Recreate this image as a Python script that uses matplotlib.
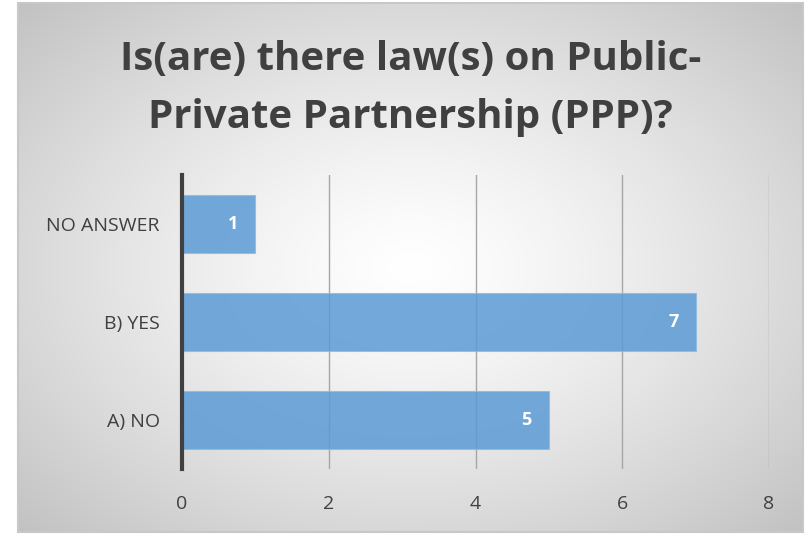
import numpy as np
import matplotlib
matplotlib.use("Agg")
import matplotlib.pyplot as plt
from matplotlib.patches import Rectangle

categories = ["A) NO", "B) YES", "NO ANSWER"]
values = [5, 7, 1]
xticks = [0, 2, 4, 6, 8]
title_lines = ["Is(are) there law(s) on Public-", "Private Partnership (PPP)?"]

W, H = 806, 534
fig = plt.figure(figsize=(W / 100, H / 100), dpi=100)
fig.patch.set_facecolor("white")

# background panel with radial gradient
x0, y0, x1, y1 = 18, 3, 803, 532  # pixel coords (top-left origin)
bg = fig.add_axes([x0 / W, 1 - y1 / H, (x1 - x0) / W, (y1 - y0) / H])
nx, ny = 400, 300
gx = np.linspace(-1, 1, nx)
gy = np.linspace(-1, 1, ny)
X, Y = np.meshgrid(gx, gy)
R = np.sqrt(X ** 2 + Y ** 2) / np.sqrt(2)
R = np.clip(R, 0, 1)
v = 1.0 - 0.24 * R ** 1.3
img = np.dstack([v, v, v])
bg.imshow(img, aspect="auto", extent=[0, 1, 0, 1], interpolation="bilinear")
bg.set_xlim(0, 1)
bg.set_ylim(0, 1)
bg.axis("off")
bg.add_patch(Rectangle((0, 0), 1, 1, fill=False, edgecolor="#c8c8c8", lw=1.5,
                       transform=bg.transAxes, clip_on=False))

# main axes
ax_l, ax_r, ax_t, ax_b = 182, 769, 175, 469
ax = fig.add_axes([ax_l / W, 1 - ax_b / H, (ax_r - ax_l) / W, (ax_b - ax_t) / H])
ax.patch.set_alpha(0)
ypos = np.arange(len(categories))
ax.barh(ypos, values, height=0.59, color="#5b9bd5", alpha=0.85, zorder=2,
        edgecolor="#8fbbe3", linewidth=0.8)
ax.set_xlim(0, 8)
ax.set_ylim(-0.5, len(categories) - 0.5)
ax.set_xticks(xticks)
ax.set_xticklabels([str(t) for t in xticks])
ax.set_yticks(ypos)
ax.set_yticklabels(categories)
for t in xticks[1:]:
    ax.axvline(t, color="#a6a6a6", lw=1.0, zorder=1)
for s in ["top", "right", "bottom"]:
    ax.spines[s].set_visible(False)
ax.spines["left"].set_color("#404040")
ax.spines["left"].set_linewidth(3)
ax.tick_params(axis="both", length=0, labelsize=14, labelcolor="#404040")
ax.tick_params(axis="y", pad=16)
ax.tick_params(axis="x", pad=19)
for lab in ax.get_xticklabels() + ax.get_yticklabels():
    lab.set_fontfamily("Open Sans")

for y, v_ in zip(ypos, values):
    ax.annotate(str(v_), xy=(v_, y), xytext=(-16, 0), textcoords="offset points",
                ha="center", va="center", color="white",
                fontsize=13, fontweight="bold", fontfamily="Open Sans", zorder=3)

cx = 0.5 * (x0 + x1) / W
for line, base in zip(title_lines, [70, 128]):
    fig.text(cx, 1 - base / H, line, ha="center", va="baseline",
             fontsize=29, fontweight="bold", color="#404040",
             fontfamily="Open Sans")

fig.savefig("out.png", dpi=100, facecolor="white")
